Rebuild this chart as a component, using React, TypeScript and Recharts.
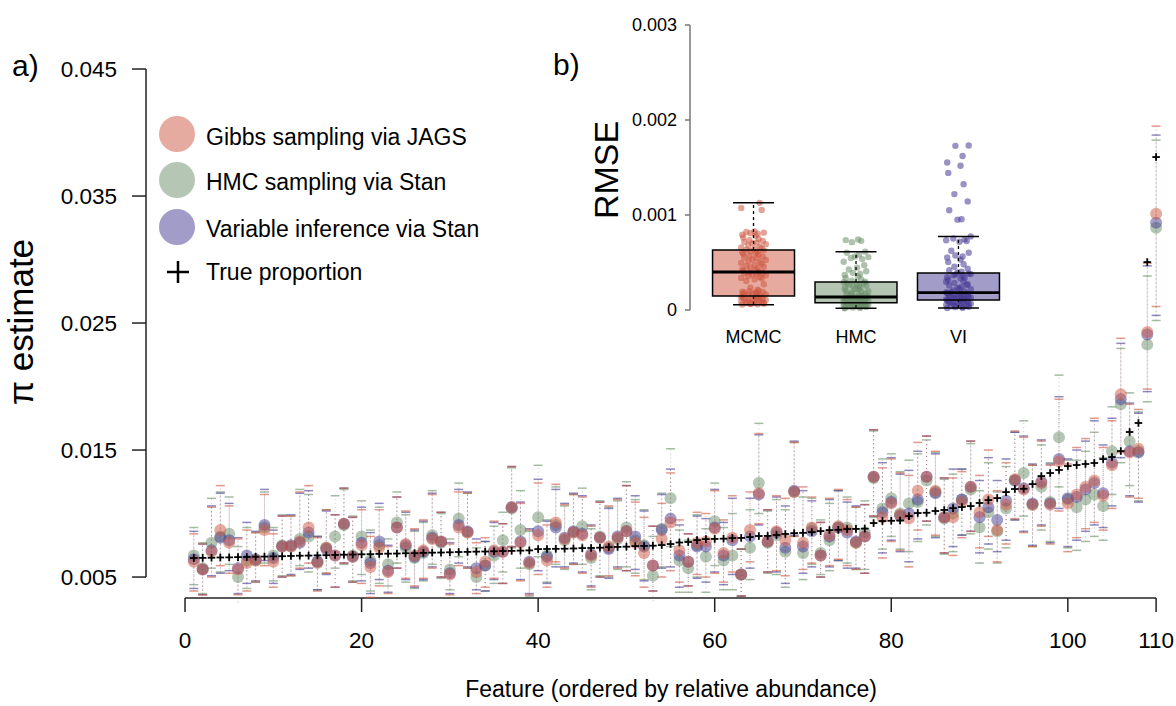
import {
  ComposedChart,
  Scatter,
  XAxis,
  YAxis,
  ErrorBar,
  ReferenceLine,
  ReferenceArea,
} from 'recharts';

const FONT = '"Liberation Sans", Arial, Helvetica, sans-serif';

// ---- panel a: per-feature estimates of pi (features ordered by relative abundance) ----
const jagsEst = [
  0.0062, 0.0056, 0.0070, 0.0087, 0.0077, 0.0056, 0.0061, 0.0063, 0.0087, 0.0062,
  0.0074, 0.0074, 0.0078, 0.0089, 0.0061, 0.0073, 0.0067, 0.0092, 0.0066, 0.0075,
  0.0058, 0.0073, 0.0054, 0.0089, 0.0076, 0.0067, 0.0071, 0.0080, 0.0078, 0.0052,
  0.0089, 0.0085, 0.0054, 0.0062, 0.0071, 0.0070, 0.0105, 0.0077, 0.0061, 0.0083,
  0.0063, 0.0093, 0.0080, 0.0085, 0.0083, 0.0067, 0.0081, 0.0074, 0.0081, 0.0086,
  0.0077, 0.0069, 0.0059, 0.0080, 0.0093, 0.0071, 0.0062, 0.0077, 0.0078, 0.0088,
  0.0069, 0.0081, 0.0052, 0.0087, 0.0116, 0.0078, 0.0086, 0.0079, 0.0117, 0.0077,
  0.0089, 0.0067, 0.0083, 0.0090, 0.0087, 0.0077, 0.0082, 0.0129, 0.0097, 0.0108,
  0.0099, 0.0096, 0.0118, 0.0129, 0.0118, 0.0097, 0.0097, 0.0109, 0.0121, 0.0101,
  0.0111, 0.0087, 0.0107, 0.0127, 0.0119, 0.0107, 0.0124, 0.0107, 0.0141, 0.0108,
  0.0115, 0.0121, 0.0126, 0.0114, 0.0138, 0.0194, 0.0148, 0.0151, 0.0243, 0.0336,
];

const hmcEst = [
  0.0067, 0.0057, 0.0077, 0.0082, 0.0084, 0.0050, 0.0063, 0.0063, 0.0089, 0.0067,
  0.0075, 0.0074, 0.0080, 0.0082, 0.0062, 0.0073, 0.0082, 0.0091, 0.0067, 0.0082,
  0.0063, 0.0075, 0.0060, 0.0093, 0.0073, 0.0065, 0.0069, 0.0083, 0.0077, 0.0056,
  0.0096, 0.0085, 0.0050, 0.0059, 0.0067, 0.0079, 0.0104, 0.0087, 0.0060, 0.0097,
  0.0067, 0.0091, 0.0079, 0.0085, 0.0090, 0.0065, 0.0082, 0.0073, 0.0080, 0.0089,
  0.0079, 0.0075, 0.0051, 0.0088, 0.0112, 0.0063, 0.0057, 0.0075, 0.0066, 0.0094,
  0.0063, 0.0067, 0.0052, 0.0073, 0.0124, 0.0077, 0.0083, 0.0070, 0.0117, 0.0069,
  0.0088, 0.0069, 0.0079, 0.0089, 0.0089, 0.0077, 0.0085, 0.0128, 0.0104, 0.0112,
  0.0100, 0.0108, 0.0109, 0.0126, 0.0117, 0.0096, 0.0100, 0.0111, 0.0119, 0.0089,
  0.0101, 0.0086, 0.0104, 0.0126, 0.0132, 0.0107, 0.0121, 0.0109, 0.0160, 0.0111,
  0.0105, 0.0111, 0.0115, 0.0106, 0.0149, 0.0186, 0.0157, 0.0149, 0.0233, 0.0325,
];

const viEst = [
  0.0064, 0.0056, 0.0071, 0.0081, 0.0079, 0.0057, 0.0067, 0.0064, 0.0091, 0.0065,
  0.0074, 0.0075, 0.0077, 0.0085, 0.0062, 0.0072, 0.0067, 0.0092, 0.0066, 0.0077,
  0.0061, 0.0078, 0.0055, 0.0089, 0.0075, 0.0066, 0.0070, 0.0081, 0.0078, 0.0053,
  0.0091, 0.0086, 0.0057, 0.0059, 0.0070, 0.0070, 0.0105, 0.0078, 0.0062, 0.0086,
  0.0066, 0.0089, 0.0081, 0.0086, 0.0084, 0.0068, 0.0081, 0.0072, 0.0082, 0.0086,
  0.0082, 0.0074, 0.0059, 0.0087, 0.0096, 0.0067, 0.0062, 0.0074, 0.0074, 0.0089,
  0.0067, 0.0079, 0.0052, 0.0082, 0.0115, 0.0078, 0.0085, 0.0073, 0.0118, 0.0074,
  0.0086, 0.0067, 0.0082, 0.0089, 0.0085, 0.0078, 0.0082, 0.0129, 0.0101, 0.0109,
  0.0098, 0.0100, 0.0111, 0.0129, 0.0116, 0.0097, 0.0104, 0.0111, 0.0121, 0.0097,
  0.0105, 0.0095, 0.0110, 0.0126, 0.0120, 0.0108, 0.0125, 0.0108, 0.0143, 0.0112,
  0.0113, 0.0119, 0.0124, 0.0116, 0.0140, 0.0190, 0.0149, 0.0148, 0.0241, 0.0329,
];

const trueProp = [
  0.00650, 0.00651, 0.00652, 0.00654, 0.00655, 0.00657, 0.00658, 0.00660, 0.00661, 0.00663,
  0.00664, 0.00666, 0.00668, 0.00669, 0.00671, 0.00672, 0.00674, 0.00676, 0.00677, 0.00679,
  0.00680, 0.00682, 0.00684, 0.00685, 0.00687, 0.00688, 0.00690, 0.00692, 0.00693, 0.00695,
  0.00697, 0.00698, 0.00700, 0.00701, 0.00703, 0.00705, 0.00706, 0.00708, 0.00710, 0.00720,
  0.00721, 0.00722, 0.00723, 0.00725, 0.00728, 0.00729, 0.00731, 0.00736, 0.00737, 0.00739,
  0.00744, 0.00745, 0.00747, 0.00752, 0.00760, 0.00772, 0.00776, 0.00791, 0.00799, 0.00800,
  0.00802, 0.00807, 0.00808, 0.00815, 0.00823, 0.00824, 0.00831, 0.00839, 0.00846, 0.00848,
  0.00854, 0.00862, 0.00870, 0.00872, 0.00878, 0.00879, 0.00881, 0.00925, 0.00941, 0.00943,
  0.00945, 0.00980, 0.01004, 0.01006, 0.01020, 0.01028, 0.01043, 0.01051, 0.01059, 0.01083,
  0.01106, 0.01122, 0.01169, 0.01193, 0.01195, 0.01232, 0.01295, 0.01319, 0.01343, 0.01374,
  0.01382, 0.01390, 0.01398, 0.01429, 0.01445, 0.01492, 0.01642, 0.01713, 0.02980, 0.03807,
];

// credible interval reach above / below each estimate
const ciUpper = [
  0.0022, 0.0020, 0.0035, 0.0035, 0.0029, 0.0024, 0.0026, 0.0022, 0.0028, 0.0022,
  0.0024, 0.0024, 0.0039, 0.0033, 0.0020, 0.0030, 0.0032, 0.0028, 0.0031, 0.0028,
  0.0024, 0.0030, 0.0020, 0.0024, 0.0026, 0.0021, 0.0024, 0.0035, 0.0023, 0.0024,
  0.0028, 0.0031, 0.0023, 0.0019, 0.0023, 0.0022, 0.0032, 0.0031, 0.0026, 0.0041,
  0.0028, 0.0030, 0.0027, 0.0030, 0.0030, 0.0023, 0.0028, 0.0032, 0.0030, 0.0036,
  0.0032, 0.0028, 0.0031, 0.0028, 0.0039, 0.0024, 0.0022, 0.0024, 0.0022, 0.0030,
  0.0026, 0.0033, 0.0020, 0.0030, 0.0047, 0.0025, 0.0028, 0.0033, 0.0039, 0.0044,
  0.0024, 0.0026, 0.0029, 0.0029, 0.0024, 0.0028, 0.0025, 0.0037, 0.0039, 0.0035,
  0.0033, 0.0034, 0.0038, 0.0032, 0.0031, 0.0031, 0.0031, 0.0024, 0.0036, 0.0029,
  0.0039, 0.0031, 0.0033, 0.0038, 0.0041, 0.0031, 0.0033, 0.0031, 0.0049, 0.0031,
  0.0037, 0.0038, 0.0049, 0.0038, 0.0035, 0.0044, 0.0038, 0.0031, 0.0054, 0.0069,
];

const ciLower = [
  0.0023, 0.0020, 0.0020, 0.0028, 0.0024, 0.0020, 0.0022, 0.0017, 0.0028, 0.0020,
  0.0024, 0.0023, 0.0021, 0.0028, 0.0022, 0.0020, 0.0025, 0.0031, 0.0020, 0.0030,
  0.0024, 0.0030, 0.0017, 0.0032, 0.0027, 0.0024, 0.0022, 0.0023, 0.0028, 0.0016,
  0.0030, 0.0028, 0.0017, 0.0020, 0.0022, 0.0025, 0.0031, 0.0030, 0.0025, 0.0031,
  0.0021, 0.0031, 0.0023, 0.0025, 0.0030, 0.0025, 0.0031, 0.0023, 0.0024, 0.0031,
  0.0026, 0.0027, 0.0020, 0.0030, 0.0038, 0.0025, 0.0019, 0.0025, 0.0028, 0.0035,
  0.0023, 0.0027, 0.0017, 0.0025, 0.0024, 0.0024, 0.0031, 0.0028, 0.0035, 0.0021,
  0.0028, 0.0017, 0.0024, 0.0026, 0.0028, 0.0021, 0.0029, 0.0031, 0.0032, 0.0030,
  0.0028, 0.0038, 0.0031, 0.0035, 0.0035, 0.0028, 0.0030, 0.0028, 0.0035, 0.0028,
  0.0029, 0.0025, 0.0031, 0.0031, 0.0034, 0.0033, 0.0034, 0.0031, 0.0039, 0.0038,
  0.0034, 0.0033, 0.0033, 0.0027, 0.0034, 0.0046, 0.0035, 0.0039, 0.0045, 0.0073,
];

const xTicks = [0, 20, 40, 60, 80, 100, 110];
const yTicks = [0.005, 0.015, 0.025, 0.035, 0.045];

// ---- panel b: RMSE per feature, in units of 1e-4 ----
const RMSE_UNIT = 1e-4;
const rmseMcmc = [
  0.58, 0.61, 0.66, 0.69, 0.74, 0.77, 0.83, 0.88, 0.91, 0.97, 1.04, 1.08, 1.11, 1.16, 1.19,
  1.24, 1.29, 1.33, 1.38, 1.41, 1.44, 0.63, 0.71, 0.86, 0.99, 1.21, 1.36, 1.52, 1.58, 1.63,
  1.71, 1.77, 1.84, 1.9, 1.97, 2.04, 1.68, 1.81, 1.93, 2.13, 2.36, 2.71, 3.05, 3.22, 3.31,
  3.38, 3.47, 3.58, 3.66, 3.73, 3.79, 3.86, 3.92, 3.97, 4.03, 4.12, 4.18, 4.27, 4.41, 4.47,
  4.56, 4.63, 4.74, 4.86, 4.95, 5.04, 5.12, 5.27, 5.35, 5.44, 5.52, 5.61, 5.69, 5.83, 5.91,
  5.98, 6.07, 6.13, 6.22, 6.28, 6.36, 6.42, 6.51, 6.58, 6.66, 6.79, 6.93, 7.02, 7.09, 7.17,
  7.26, 7.34, 7.48, 7.63, 7.81, 7.92, 8.02, 8.08, 8.14, 8.21, 8.27, 10.52, 10.74, 11.28,
];
const rmseHmc = [
  0.18, 0.22, 0.26, 0.31, 0.35, 0.38, 0.42, 0.46, 0.49, 0.53, 0.55, 0.58, 0.61, 0.63, 0.66,
  0.68, 0.71, 0.73, 0.75, 0.24, 0.33, 0.44, 0.51, 0.6, 0.69, 0.76, 0.79, 0.83, 0.86, 0.9,
  0.93, 0.97, 1.01, 1.04, 1.08, 1.11, 1.15, 1.19, 1.22, 1.26, 1.3, 1.33, 1.36, 0.88, 0.95,
  1.06, 1.17, 1.28, 1.39, 1.43, 1.52, 1.61, 1.72, 1.84, 1.93, 2.05, 2.14, 2.27, 2.38, 2.49,
  2.58, 2.67, 2.76, 2.84, 2.92, 1.47, 1.66, 1.98, 2.21, 2.55, 2.81, 2.99, 3.08, 3.21, 3.35,
  3.52, 3.68, 3.79, 3.91, 4.08, 4.27, 4.46, 4.72, 5.08, 5.36, 5.48, 5.57, 5.63, 5.84, 6.02,
  6.14, 7.14, 7.28, 7.36, 7.42,
];
const rmseVi = [
  0.21, 0.25, 0.3, 0.34, 0.39, 0.43, 0.48, 0.52, 0.57, 0.61, 0.66, 0.7, 0.74, 0.79, 0.83,
  0.87, 0.92, 0.96, 1.0, 1.03, 0.28, 0.45, 0.63, 0.81, 0.94, 1.07, 1.12, 1.18, 1.23, 1.29,
  1.34, 1.4, 1.46, 1.51, 1.57, 1.62, 1.68, 1.73, 1.79, 1.15, 1.26, 1.37, 1.48, 1.59, 1.71,
  1.86, 1.95, 2.06, 2.18, 2.31, 2.44, 2.58, 2.71, 2.86, 3.02, 3.17, 3.31, 3.46, 3.6, 3.72,
  3.85, 1.91, 2.24, 2.65, 2.97, 3.39, 3.66, 3.78, 3.94, 4.02, 4.18, 4.36, 4.55, 4.82, 5.04,
  5.31, 5.52, 5.63, 5.74, 6.02, 6.23, 7.18, 7.26, 7.34, 7.43, 7.52, 7.75, 9.51, 9.56, 10.5,
  11.43, 12.2, 13.24, 14.43, 15.19, 15.53, 16.21, 17.28, 17.32,
];

const boxGroups = ['MCMC', 'HMC', 'VI'];
const boxWhiskerLow = [0.000056, 0.000018, 0.000021];
const boxQ1 = [0.000147, 0.000077, 0.000105];
const boxMedian = [0.0004, 0.000137, 0.000182];
const boxQ3 = [0.000632, 0.000295, 0.00039];
const boxWhiskerHigh = [0.00113, 0.000614, 0.000775];
const rmseTicks = [0, 0.001, 0.002, 0.003];

// horizontal spread for the stripchart points (axis units)
const JITTER = [
  -0.11, 0.04, -0.03, 0.1, -0.07, 0.01, 0.08, -0.12, 0.06, -0.05, 0.12, -0.01, 0.03, -0.09,
  0.09, -0.04, 0.05, -0.1, 0.02,
];

const RED = '#cd5741';
const GREEN = '#6b8f69';
const PURPLE = '#453993';
const LIGHT = { red: '#e6aba0', green: '#b5c7b4', purple: '#a29cc9' };
const BOX_FILL = ['#e6aa9f', '#b4c6b3', '#a29cc8'];
const BOX_POINT = [RED, GREEN, PURPLE];

const features = trueProp.map((_, i) => i + 1);

const points = (vals: number[]) => features.map((x, i) => ({ x, y: vals[i] }));
const lowerEnds = (est: number[]) =>
  features.map((x, i) => ({
    x,
    y: est[i] - ciLower[i],
    span: [0, ciLower[i] + ciUpper[i]],
  }));
const upperEnds = (est: number[]) => features.map((x, i) => ({ x, y: est[i] + ciUpper[i] }));

const methods = [
  { key: 'hmc', est: hmcEst, color: GREEN },
  { key: 'vi', est: viEst, color: PURPLE },
  { key: 'jags', est: jagsEst, color: RED },
];

const dash = (color: string) => (props: any) => {
  const { cx, cy } = props;
  if (cx == null || cy == null) return <g />;
  return (
    <line x1={cx - 4.5} x2={cx + 4.5} y1={cy} y2={cy} stroke={color} strokeOpacity={0.6} strokeWidth={1.5} />
  );
};

const disc = (color: string, r: number, opacity: number) => (props: any) => {
  const { cx, cy } = props;
  if (cx == null || cy == null) return <g />;
  return <circle cx={cx} cy={cy} r={r} fill={color} fillOpacity={opacity} />;
};

const plus = (props: any) => {
  const { cx, cy } = props;
  if (cx == null || cy == null) return <g />;
  return (
    <g stroke="#000" strokeWidth={1.8}>
      <line x1={cx - 3.8} x2={cx + 3.8} y1={cy} y2={cy} />
      <line x1={cx} x2={cx} y1={cy - 3.8} y2={cy + 3.8} />
    </g>
  );
};

const X_DOMAIN = [-4.42, 111.8];
const Y_DOMAIN = [0.00335, 0.04886];
const tickFont = { fill: '#000', fontSize: 22.5, fontFamily: FONT };

function EstimatePanel() {
  return (
    <ComposedChart width={1176} height={706} margin={{ top: 20, right: 4, bottom: 48, left: 46 }}>
      <XAxis
        type="number"
        dataKey="x"
        domain={X_DOMAIN}
        allowDataOverflow
        ticks={xTicks}
        interval={0}
        axisLine={false}
        tickLine={{ stroke: '#222', strokeWidth: 1.5 }}
        tickSize={14}
        tickMargin={20}
        height={60}
        tick={tickFont}
      />
      <YAxis
        type="number"
        dataKey="y"
        domain={Y_DOMAIN}
        allowDataOverflow
        ticks={yTicks}
        interval={0}
        axisLine={false}
        tickLine={{ stroke: '#222', strokeWidth: 1.5 }}
        tickSize={14}
        tickMargin={15}
        width={100}
        tickFormatter={(v: number) => v.toFixed(3)}
        tick={tickFont}
      />
      <ReferenceLine
        segment={[{ x: X_DOMAIN[0], y: 0.005 }, { x: X_DOMAIN[0], y: 0.045 }]}
        stroke="#222"
        strokeWidth={1.5}
        ifOverflow="visible"
      />
      <ReferenceLine
        segment={[{ x: 0, y: Y_DOMAIN[0] }, { x: 110, y: Y_DOMAIN[0] }]}
        stroke="#222"
        strokeWidth={1.5}
        ifOverflow="visible"
      />

      {methods.map((m) => (
        <Scatter key={`${m.key}-lo`} data={lowerEnds(m.est)} shape={dash(m.color)} isAnimationActive={false}>
          <ErrorBar
            dataKey="span"
            direction="y"
            width={0}
            stroke={m.color}
            strokeOpacity={0.45}
            strokeWidth={1}
            strokeDasharray="1 3"
            isAnimationActive={false}
          />
        </Scatter>
      ))}
      {methods.map((m) => (
        <Scatter key={`${m.key}-hi`} data={upperEnds(m.est)} shape={dash(m.color)} isAnimationActive={false} />
      ))}
      {methods.map((m) => (
        <Scatter key={`${m.key}-est`} data={points(m.est)} shape={disc(m.color, 6, 0.5)} isAnimationActive={false} />
      ))}
      <Scatter data={points(trueProp)} shape={plus} isAnimationActive={false} />
    </ComposedChart>
  );
}

function RmsePanel() {
  const sets = [rmseMcmc, rmseHmc, rmseVi];
  const overlays: any[] = [];
  boxGroups.forEach((g, i) => {
    const c = i + 1;
    overlays.push(
      <ReferenceLine
        key={`${g}-wu`}
        segment={[{ x: c, y: boxQ3[i] }, { x: c, y: boxWhiskerHigh[i] }]}
        stroke="#000"
        strokeWidth={1.3}
        strokeDasharray="3 3"
        zIndex={700}
      />,
      <ReferenceLine
        key={`${g}-wl`}
        segment={[{ x: c, y: boxWhiskerLow[i] }, { x: c, y: boxQ1[i] }]}
        stroke="#000"
        strokeWidth={1.3}
        strokeDasharray="3 3"
        zIndex={700}
      />,
      <ReferenceLine
        key={`${g}-cu`}
        segment={[{ x: c - 0.2, y: boxWhiskerHigh[i] }, { x: c + 0.2, y: boxWhiskerHigh[i] }]}
        stroke="#000"
        strokeWidth={1.5}
        zIndex={700}
      />,
      <ReferenceLine
        key={`${g}-cl`}
        segment={[{ x: c - 0.2, y: boxWhiskerLow[i] }, { x: c + 0.2, y: boxWhiskerLow[i] }]}
        stroke="#000"
        strokeWidth={1.5}
        zIndex={700}
      />,
      <ReferenceArea
        key={`${g}-outline`}
        x1={c - 0.4}
        x2={c + 0.4}
        y1={boxQ1[i]}
        y2={boxQ3[i]}
        fill="none"
        stroke="#000"
        strokeWidth={1.5}
        zIndex={700}
      />,
      <ReferenceLine
        key={`${g}-med`}
        segment={[{ x: c - 0.4, y: boxMedian[i] }, { x: c + 0.4, y: boxMedian[i] }]}
        stroke="#000"
        strokeWidth={2.8}
        zIndex={700}
      />
    );
  });

  return (
    <ComposedChart width={440} height={370} margin={{ top: 13.6, right: 18, bottom: 18.6, left: 10 }}>
      <XAxis
        type="number"
        dataKey="x"
        domain={[0.38, 3.62]}
        allowDataOverflow
        ticks={[1, 2, 3]}
        interval={0}
        tickFormatter={(v: number) => boxGroups[v - 1]}
        axisLine={false}
        tickLine={false}
        tickSize={0}
        tickMargin={8.6}
        height={30}
        tick={{ fill: '#000', fontSize: 18, fontFamily: FONT }}
      />
      <YAxis
        type="number"
        dataKey="y"
        domain={[-0.00012, 0.00312]}
        allowDataOverflow
        ticks={rmseTicks}
        interval={0}
        tickFormatter={(v: number) => (v === 0 ? '0' : v.toFixed(3))}
        axisLine={false}
        tickLine={{ stroke: '#777', strokeWidth: 1.5 }}
        tickSize={5}
        tickMargin={8}
        width={80}
        tick={{ fill: '#000', fontSize: 18, fontFamily: FONT }}
      />
      <ReferenceLine
        segment={[{ x: 0.38, y: 0 }, { x: 0.38, y: 0.003 }]}
        stroke="#777"
        strokeWidth={1.5}
        ifOverflow="visible"
      />
      {boxGroups.map((g, i) => (
        <ReferenceArea
          key={`${g}-box`}
          x1={i + 1 - 0.4}
          x2={i + 1 + 0.4}
          y1={boxQ1[i]}
          y2={boxQ3[i]}
          fill={BOX_FILL[i]}
          fillOpacity={1}
          stroke="none"
        />
      ))}
      {sets.map((set, i) => (
        <Scatter
          key={`${boxGroups[i]}-pts`}
          data={set.map((v, j) => ({ x: i + 1 + JITTER[j % JITTER.length], y: v * RMSE_UNIT }))}
          shape={disc(BOX_POINT[i], 3.2, 0.55)}
          isAnimationActive={false}
        />
      ))}
      {overlays}
    </ComposedChart>
  );
}

const legendItems = [
  { label: 'Gibbs sampling via JAGS', color: LIGHT.red, cy: 134, base: 145 },
  { label: 'HMC sampling via Stan', color: LIGHT.green, cy: 180, base: 190 },
  { label: 'Variable inference via Stan', color: LIGHT.purple, cy: 227, base: 236.5 },
];

export default function App() {
  return (
    <div
      style={{
        position: 'absolute',
        left: 0,
        top: 0,
        width: 1176,
        height: 706,
        background: '#fff',
        overflow: 'hidden',
        fontFamily: FONT,
      }}
    >
      <div style={{ position: 'absolute', left: 0, top: 0 }}>
        <EstimatePanel />
      </div>
      <div style={{ position: 'absolute', left: 600, top: 0 }}>
        <RmsePanel />
      </div>
      <svg
        width={1176}
        height={706}
        style={{ position: 'absolute', left: 0, top: 0, pointerEvents: 'none' }}
        fontFamily={FONT}
      >
        <text x={12} y={76} fontSize={30}>a)</text>
        <text x={553} y={75} fontSize={30}>b)</text>
        <text transform="translate(33,322) rotate(-90)" textAnchor="middle" fontSize={35}>
          π estimate
        </text>
        <text transform="translate(618,170) rotate(-90)" textAnchor="middle" fontSize={34}>
          RMSE
        </text>
        <text x={671} y={697} textAnchor="middle" fontSize={23}>
          Feature (ordered by relative abundance)
        </text>
        {legendItems.map((it) => (
          <g key={it.label}>
            <circle cx={177} cy={it.cy} r={18} fill={it.color} />
            <text x={206} y={it.base} fontSize={23}>{it.label}</text>
          </g>
        ))}
        <g stroke="#000" strokeWidth={2.5}>
          <line x1={167} x2={189} y1={272} y2={272} />
          <line x1={178} x2={178} y1={261} y2={283} />
        </g>
        <text x={206} y={280} fontSize={23}>True proportion</text>
      </svg>
    </div>
  );
}
